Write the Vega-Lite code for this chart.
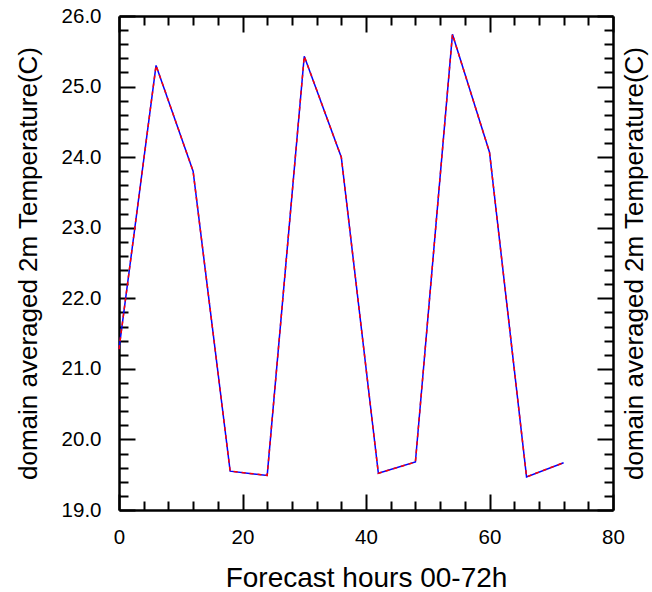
{
  "$schema": "https://vega.github.io/schema/vega-lite/v6.json",
  "width": 494,
  "height": 494,
  "autosize": {"type": "none"},
  "padding": {"left": 119, "top": 16, "right": 39, "bottom": 82},
  "background": "white",
  "config": {
    "view": {"stroke": null},
    "axis": {
      "labelFont": "Liberation Sans",
      "titleFont": "Liberation Sans",
      "labelFontSize": 20.5,
      "titleFontSize": 26,
      "titleFontWeight": "normal",
      "labelColor": "black",
      "titleColor": "black",
      "domainColor": "black",
      "domainWidth": 2.5,
      "tickColor": "black",
      "tickWidth": 2,
      "grid": false,
      "labelOverlap": false,
      "labelFlush": false,
      "labelBound": false
    }
  },
  "data": {
    "values": [
      {"hour": 0, "temp": 21.28, "run": "a"},
      {"hour": 6, "temp": 25.3, "run": "a"},
      {"hour": 12, "temp": 23.8, "run": "a"},
      {"hour": 18, "temp": 19.55, "run": "a"},
      {"hour": 24, "temp": 19.49, "run": "a"},
      {"hour": 30, "temp": 25.43, "run": "a"},
      {"hour": 36, "temp": 24.0, "run": "a"},
      {"hour": 42, "temp": 19.52, "run": "a"},
      {"hour": 48, "temp": 19.68, "run": "a"},
      {"hour": 54, "temp": 25.74, "run": "a"},
      {"hour": 60, "temp": 24.07, "run": "a"},
      {"hour": 66, "temp": 19.47, "run": "a"},
      {"hour": 72, "temp": 19.67, "run": "a"},
      {"hour": 0, "temp": 21.28, "run": "b"},
      {"hour": 6, "temp": 25.3, "run": "b"},
      {"hour": 12, "temp": 23.8, "run": "b"},
      {"hour": 18, "temp": 19.55, "run": "b"},
      {"hour": 24, "temp": 19.49, "run": "b"},
      {"hour": 30, "temp": 25.43, "run": "b"},
      {"hour": 36, "temp": 24.0, "run": "b"},
      {"hour": 42, "temp": 19.52, "run": "b"},
      {"hour": 48, "temp": 19.68, "run": "b"},
      {"hour": 54, "temp": 25.74, "run": "b"},
      {"hour": 60, "temp": 24.07, "run": "b"},
      {"hour": 66, "temp": 19.47, "run": "b"},
      {"hour": 72, "temp": 19.67, "run": "b"}
    ]
  },
  "layer": [
    {
      "transform": [{"filter": "datum.run == 'a'"}],
      "mark": {"type": "line", "color": "#0000ff", "strokeWidth": 1.5},
      "encoding": {
        "x": {
          "field": "hour", "type": "quantitative",
          "scale": {"domain": [0, 80], "nice": false, "zero": false},
          "axis": {
            "orient": "bottom",
            "title": "Forecast hours 00-72h",
            "titleFontSize": 28,
            "values": [-20, 0, 4, 8, 12, 16, 20, 24, 28, 32, 36, 40, 44, 48, 52, 56, 60, 64, 68, 72, 76, 80],
            "labelExpr": "datum.value % 20 == 0 ? datum.label : ''",
            "tickSize": {"condition": {"test": "datum.value % 20 == 0", "value": -16}, "value": -9},
            "labelPadding": 33,
            "titlePadding": 10
          }
        },
        "y": {
          "field": "temp", "type": "quantitative",
          "scale": {"domain": [19, 26], "nice": false, "zero": false},
          "axis": {
            "orient": "left",
            "title": "domain averaged 2m Temperature(C)",
            "values": [19, 19.2, 19.4, 19.6, 19.8, 20, 20.2, 20.4, 20.6, 20.8, 21, 21.2, 21.4, 21.6, 21.8, 22, 22.2, 22.4, 22.6, 22.8, 23, 23.2, 23.4, 23.6, 23.8, 24, 24.2, 24.4, 24.6, 24.8, 25, 25.2, 25.4, 25.6, 25.8, 26],
            "labelExpr": "datum.value % 1 == 0 ? format(datum.value, '.1f') : ''",
            "tickSize": {"condition": {"test": "datum.value % 1 == 0", "value": -16}, "value": -9},
            "labelPadding": 34,
            "titlePadding": 20
          }
        }
      }
    },
    {
      "transform": [{"filter": "datum.run == 'b'"}],
      "mark": {"type": "line", "color": "#ff0000", "strokeWidth": 1.5, "strokeDash": [4, 4]},
      "encoding": {
        "x": {
          "field": "hour", "type": "quantitative",
          "scale": {"domain": [0, 80], "nice": false, "zero": false},
          "axis": {
            "orient": "top",
            "title": null,
            "labels": false,
            "values": [0, 4, 8, 12, 16, 20, 24, 28, 32, 36, 40, 44, 48, 52, 56, 60, 64, 68, 72, 76, 80],
            "tickSize": {"condition": {"test": "datum.value % 20 == 0", "value": -16}, "value": -9}
          }
        },
        "y": {
          "field": "temp", "type": "quantitative",
          "scale": {"domain": [19, 26], "nice": false, "zero": false},
          "axis": {
            "orient": "right",
            "title": "domain averaged 2m Temperature(C)",
            "titleAngle": 270,
            "labels": false,
            "values": [19, 19.2, 19.4, 19.6, 19.8, 20, 20.2, 20.4, 20.6, 20.8, 21, 21.2, 21.4, 21.6, 21.8, 22, 22.2, 22.4, 22.6, 22.8, 23, 23.2, 23.4, 23.6, 23.8, 24, 24.2, 24.4, 24.6, 24.8, 25, 25.2, 25.4, 25.6, 25.8, 26],
            "tickSize": {"condition": {"test": "datum.value % 1 == 0", "value": -16}, "value": -9},
            "titlePadding": 33
          }
        }
      }
    }
  ],
  "resolve": {"axis": {"x": "independent", "y": "independent"}}
}
